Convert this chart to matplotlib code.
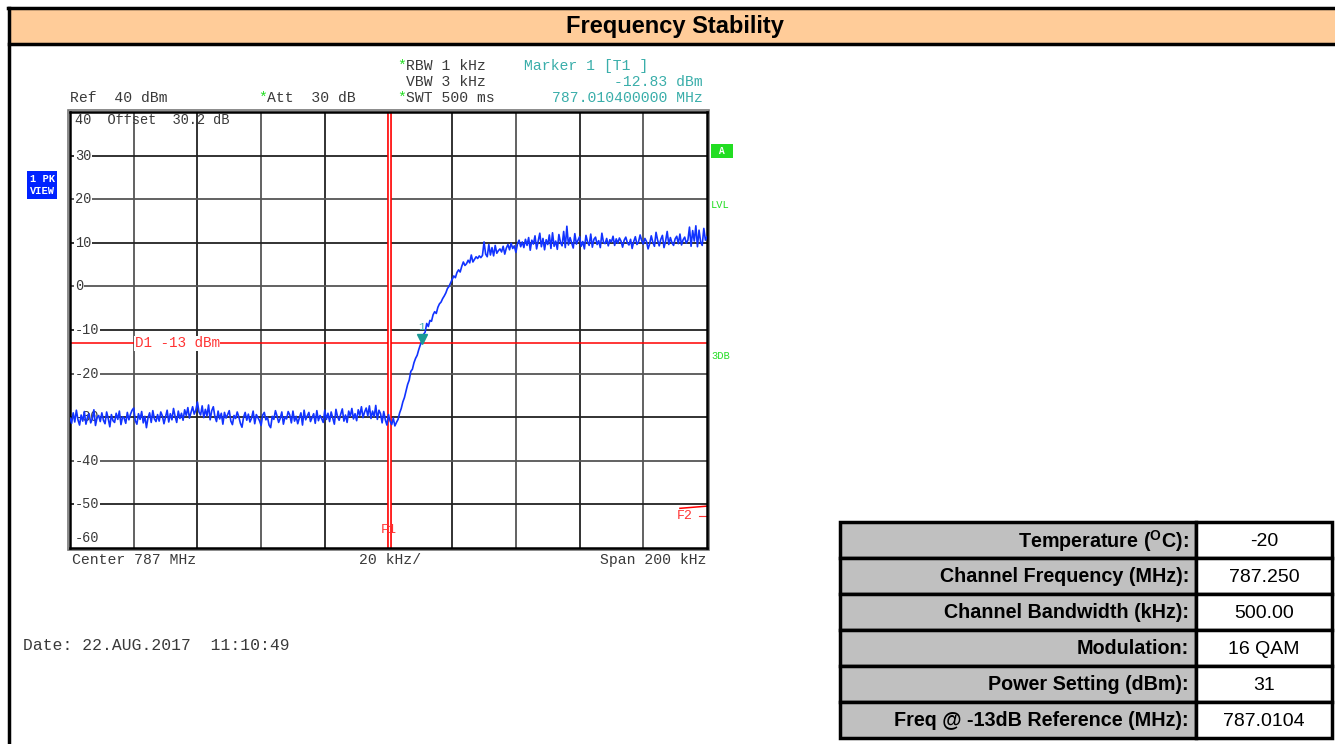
import numpy as np
import matplotlib
matplotlib.use('Agg')
import matplotlib.pyplot as plt
from matplotlib.patches import Rectangle
from matplotlib.lines import Line2D

plt.rcParams['mathtext.fontset'] = 'custom'
plt.rcParams['mathtext.rm'] = 'Liberation Sans'
plt.rcParams['mathtext.bf'] = 'Liberation Sans:bold'

# spectrum analyzer settings
center_mhz = 787.0
span_khz = 200
ref_level = 40
bottom_level = -60
limit_dbm = -13
f1_mhz = 787.0
marker_mhz = 787.0104
marker_dbm = -12.83

# trace, one point per 0.5 kHz from 786.900 to 787.100 MHz
trace_dbm = [
    # 0 .. 102 kHz, noise floor
    -30.2, -31.4, -29.0, -31.1, -28.4, -30.6, -31.8, -29.5, -30.9, -28.7,
    -31.6, -30.0, -29.2, -31.3, -30.4, -28.3, -31.9, -30.1, -29.6, -31.0,
    -29.0, -30.7, -31.5, -28.8, -30.3, -32.2, -29.4, -30.8, -31.2, -29.1,
    -30.5, -28.6, -31.7, -29.9, -30.2, -31.4, -28.9, -30.6, -29.3, -28.4,
    -27.9, -30.8, -31.6, -29.2, -30.5, -28.7, -31.3, -29.8, -32.4, -30.1,
    -29.0, -31.2, -28.5, -30.4, -31.0, -29.4, -30.9, -28.8, -29.7, -31.5,
    -30.0, -28.4, -31.1, -29.2, -30.6, -28.0, -29.8, -31.2, -28.6, -30.3,
    -29.1, -30.7, -28.3, -29.6, -27.8, -30.2, -28.9, -27.6, -29.3, -28.4,
    -26.5, -28.8, -29.5, -27.4, -30.1, -28.2, -29.7, -27.2, -30.6, -28.5,
    -27.6, -29.9, -31.0, -28.6, -30.4, -29.1, -31.6, -28.9, -30.2, -29.4,
    -28.5, -30.9, -31.7, -29.6, -30.3, -28.8, -29.9, -31.4, -32.3, -30.0,
    -28.9, -30.7, -29.3, -31.1, -30.2, -28.6, -31.5, -29.4, -30.1, -30.8,
    -31.9, -29.5, -28.9, -30.6, -30.0, -31.8, -32.4, -29.8, -30.5, -28.5,
    -29.7, -31.2, -30.3, -28.8, -31.6, -29.9, -30.4, -28.7, -29.5, -31.3,
    -28.6, -30.9, -29.8, -31.5, -30.2, -29.0, -31.8, -28.4, -30.6, -29.7,
    -28.9, -31.0, -30.1, -29.2, -31.4, -28.5, -30.8, -29.6, -30.3, -31.2,
    -28.4, -30.5, -29.1, -31.0, -28.8, -30.2, -31.6, -28.2, -29.9, -30.7,
    -29.3, -28.1, -30.9, -29.5, -31.2, -28.6, -29.8, -28.0, -30.4, -29.2,
    -30.8, -28.3, -29.6, -27.6, -30.1, -28.8, -27.9, -29.7, -27.4, -30.3,
    -28.6, -29.9, -27.3, -30.5, -28.4, -29.2, -31.3, -28.7, -30.6, -31.8,
    -29.4, -30.9, -31.7, -30.2, -32.0,
    # 102.5 .. 149.5 kHz, rising edge
    -31.2, -30.5, -29.0, -28.0, -26.5, -25.5, -24.0, -22.5, -21.5, -19.5,
    -19.0, -17.5, -16.5, -15.8, -14.5, -13.4, -12.6, -11.0, -10.5, -8.5,
    -9.2, -7.8, -8.0, -6.5, -5.8, -6.2, -4.8, -4.0, -3.6, -2.8,
    -2.2, -1.5, -0.5, 0.0, 0.8, 1.6, 2.4, 2.0, 3.2, 3.8,
    3.3, 4.6, 5.6, 4.8, 5.2, 6.0, 5.4, 7.2, 5.6, 6.2,
    6.8, 6.4, 7.0, 6.6, 7.1, 10.2, 7.4, 6.8, 9.6, 7.2,
    8.9, 7.0, 9.4, 7.6, 8.2, 8.6, 7.9, 9.2, 7.4, 8.8,
    9.6, 8.4, 9.9, 8.7, 9.3, 7.8, 9.8, 10.6, 9.1, 10.2,
    8.9, 10.8, 9.4, 11.2, 8.3, 10.6, 9.7, 11.6, 8.6, 10.4,
    12.2, 9.1, 11.0, 8.4, 10.7,
    # 150 .. 200 kHz, in-band level
    9.6, 11.8, 8.7, 12.3, 9.2, 10.4, 8.5, 11.9, 10.1, 9.3,
    12.6, 8.9, 13.8, 9.5, 11.2, 10.0, 8.8, 12.1, 9.7, 10.6,
    11.4, 9.2, 10.3, 8.6, 11.7, 10.2, 9.4, 12.0, 9.0, 10.8,
    11.3, 9.6, 10.5, 8.9, 12.2, 10.1, 9.8, 11.0, 9.3, 10.7,
    10.2, 11.5, 9.4, 10.9, 9.9, 11.1, 10.4, 9.0, 10.6, 11.3,
    10.0, 9.5, 10.8, 8.7, 10.3, 11.4, 9.6, 10.2, 11.8, 10.5,
    9.7, 11.0, 10.3, 8.6, 9.8, 11.6, 10.1, 9.2, 12.4, 10.6,
    9.3, 10.8, 11.7, 8.9, 10.4, 12.6, 9.6, 11.2, 10.0, 9.4,
    10.9, 11.5, 9.8, 12.0, 9.5, 10.7, 11.3, 9.9, 10.6, 13.6,
    9.2, 12.8, 10.4, 13.9, 9.1, 12.9, 10.2, 9.4, 13.3, 10.6,
    11.4,
]

# table on the right
row_labels = ['Temperature ($^{\\mathbf{O}}$C):', 'Channel Frequency (MHz):',
              'Channel Bandwidth (kHz):', 'Modulation:', 'Power Setting (dBm):',
              'Freq @ -13dB Reference (MHz):']
row_values = ['-20', '787.250', '500.00', '16 QAM', '31', '787.0104']

W, H = 1335, 744
fig = plt.figure(figsize=(W / 100, H / 100), dpi=100)


def fx(x):
    return x / W


def fy(y):
    return 1 - y / H


mono = 'Liberation Mono'
grey = '#3a3a3a'
teal = '#3AAEAA'
green = '#22DD22'
red_txt = '#FF3333'

# page frame and header
fig.add_artist(Line2D([fx(9), fx(9)], [fy(744), fy(8)], color='black', lw=2.5))
fig.add_artist(Line2D([fx(8), 1], [fy(8), fy(8)], color='black', lw=2.5))
fig.add_artist(Rectangle((fx(10), fy(44)), 1 - fx(10), fy(9) - fy(44),
                         facecolor='#FFCC99', edgecolor='none'))
fig.add_artist(Line2D([fx(9), 1], [fy(44), fy(44)], color='black', lw=2.5))
fig.text(fx(675), fy(26), 'Frequency Stability', ha='center', va='center',
         fontsize=17, fontweight='bold', family='Liberation Sans')

# spectrum plot
ax = fig.add_axes([fx(70), fy(548), fx(637), (548 - 112) / H])
freqs = np.linspace(center_mhz - span_khz / 2000, center_mhz + span_khz / 2000,
                    len(trace_dbm))
ax.set_xlim(freqs[0], freqs[-1])
ax.set_ylim(bottom_level, ref_level)
ax.set_xticks([])
ax.set_yticks([])
for s in ax.spines.values():
    s.set_linewidth(1.8)
    s.set_color('black')

xgrid = np.linspace(freqs[0], freqs[-1], 11)[1:-1]
for i, xv in enumerate(xgrid):
    ax.axvline(xv, color='#222222' if i % 2 else '#555555', lw=1.3, zorder=1)
ylab = dict(transform=ax.get_yaxis_transform(), ha='left', va='center',
            family=mono, fontsize=9.8, color=grey, zorder=3)
for i, yv in enumerate(range(30, -60, -10)):
    ax.axhline(yv, color='#222222' if i % 2 == 0 else '#555555', lw=1.3, zorder=1)
    ax.text(0.008, yv, '%d' % yv,
            bbox=dict(facecolor='white', edgecolor='none', pad=0.6), **ylab)
ax.text(0.008, 38.2, '40  Offset  30.2 dB', **ylab)
ax.text(0.008, -57.6, '-60', **ylab)

# outer double frame line
ax.add_patch(Rectangle((-0.0035, -0.005), 1.007, 1.01, transform=ax.transAxes,
                       fill=False, edgecolor='#777777', lw=1.2, clip_on=False))

# display line D1 and frequency lines
ax.axhline(limit_dbm, color='red', lw=1.1, zorder=2)
ax.text(freqs[0] + 0.0203, limit_dbm, 'D1 -13 dBm', ha='left', va='center',
        family=mono, fontsize=10.3, color=red_txt, zorder=3,
        bbox=dict(facecolor='white', edgecolor='none', pad=0.3))
ax.axvline(f1_mhz, color='red', lw=3.4, zorder=2)
ax.axvline(f1_mhz, color='white', lw=1.0, zorder=2)
ax.text(f1_mhz, -55.8, 'F1', ha='center', va='center', family=mono,
        fontsize=9.5, color=red_txt, zorder=3)
ax.plot([freqs[-1] - 0.0085, freqs[-1]], [-50.9, -50.4], color='red', lw=1.1,
        zorder=2, clip_on=False)
ax.text(freqs[-1] - 0.0095, -52.7, 'F2', ha='left', va='center', family=mono,
        fontsize=9.5, color=red_txt, zorder=3)
ax.plot([freqs[-1] - 0.0025, freqs[-1]], [-52.7, -52.7], color=red_txt, lw=0.8,
        zorder=2, clip_on=False)

# trace and marker
ax.plot(freqs, trace_dbm, color='#1133FF', lw=1.2, zorder=4)
ax.plot(marker_mhz, marker_dbm + 0.8, marker='v', color='#1A9A96', markersize=7,
        zorder=5)
ax.text(marker_mhz, marker_dbm + 3.5, '1', ha='center', va='center',
        family=mono, fontsize=8, color=teal, zorder=5)


# settings text around the plot
def t(x, y, s, color=grey, ha='left', size=10.6):
    fig.text(fx(x), fy(y), s, ha=ha, va='center', family=mono, fontsize=size,
             color=color)


t(397, 66, '*', color=green)
t(406, 66, 'RBW 1 kHz')
t(406, 82, 'VBW 3 kHz')
t(397, 98, '*', color=green)
t(406, 98, 'SWT 500 ms')
t(524, 66, 'Marker 1 [T1 ]', color=teal)
t(703, 82, '%.2f dBm' % marker_dbm, color=teal, ha='right')
t(703, 98, '%.9f MHz' % marker_mhz, color=teal, ha='right')
t(70, 98, 'Ref  %d dBm' % ref_level)
t(258, 98, '*', color=green)
t(267, 98, 'Att  30 dB')
t(72, 560, 'Center %d MHz' % center_mhz)
t(359, 560, '%d kHz/' % (span_khz // 10))
t(706, 560, 'Span %d kHz' % span_khz, ha='right')
t(23, 646, 'Date: 22.AUG.2017  11:10:49', size=11.8)

# side badges
fig.text(fx(42), fy(185), '1 PK\nVIEW', ha='center', va='center', family=mono,
         fontsize=7.5, fontweight='bold', color='white', linespacing=1.3,
         bbox=dict(facecolor='#0022FF', edgecolor='none', pad=1.8))
fig.text(fx(722), fy(151), ' A ', ha='center', va='center', family=mono,
         fontsize=7, fontweight='bold', color='white',
         bbox=dict(facecolor='#22DD22', edgecolor='none', pad=1.5))
t(711, 205, 'LVL', color=green, size=7.5)
t(711, 356, '3DB', color=green, size=7.5)

# parameter table
top, row_h = 522, 36
lx0, lx1, vx1 = 840, 1196, 1332
for i, (lab, val) in enumerate(zip(row_labels, row_values)):
    y0 = top + i * row_h
    fig.add_artist(Rectangle((fx(lx0), fy(y0 + row_h)), fx(lx1 - lx0), row_h / H,
                             facecolor='#C0C0C0', edgecolor='black', lw=2.5))
    fig.add_artist(Rectangle((fx(lx1), fy(y0 + row_h)), fx(vx1 - lx1), row_h / H,
                             facecolor='white', edgecolor='black', lw=2.5))
    fig.text(fx(lx1 - 7), fy(y0 + row_h / 2 + 1), lab, ha='right', va='center',
             family='Liberation Sans', fontweight='bold', fontsize=14.2)
    fig.text(fx((lx1 + vx1) / 2), fy(y0 + row_h / 2 + 1), val, ha='center',
             va='center', family='Liberation Sans', fontsize=14)

fig.savefig('out.png', dpi=100)
